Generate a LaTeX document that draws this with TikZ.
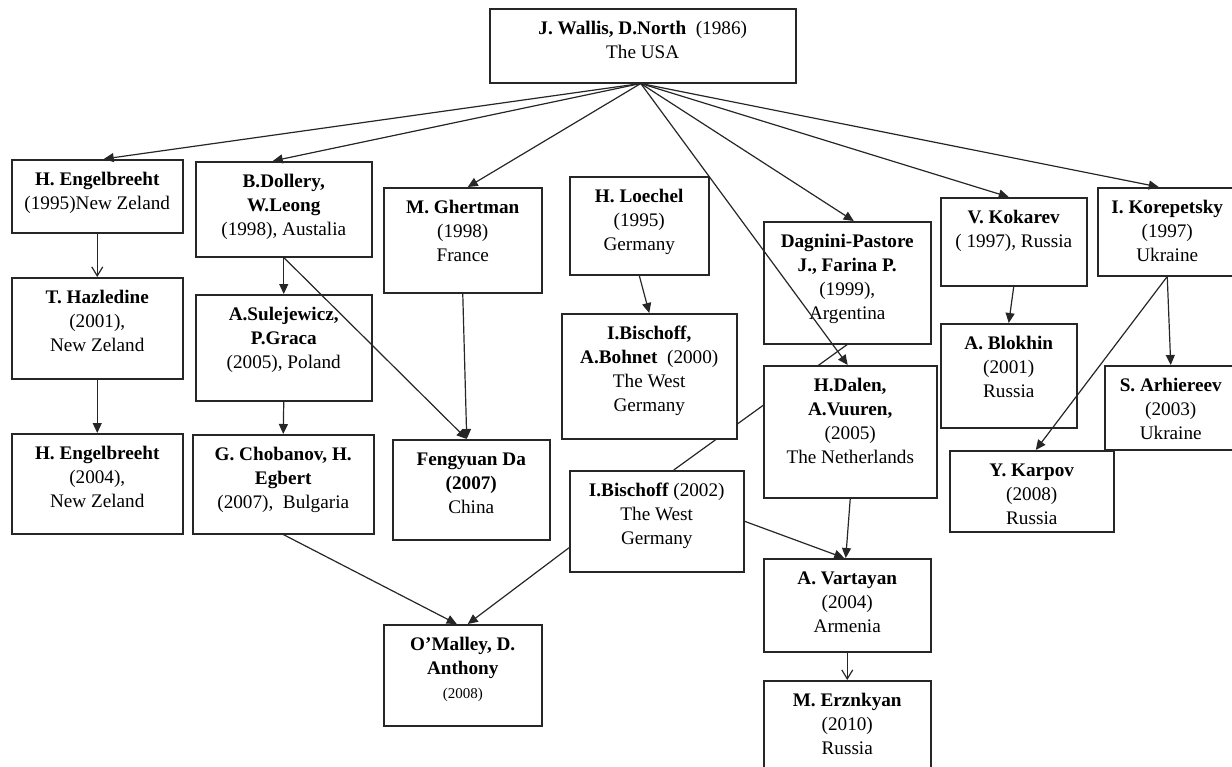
\documentclass[tikz,border=0pt]{standalone}
\usepackage{fontspec}
\setmainfont{Liberation Serif}
\usetikzlibrary{arrows.meta,calc}
\pgfdeclarelayer{bg}
\pgfsetlayers{bg,main}
\tikzset{
  box/.style={draw=black!85, line width=0.75pt, fill=white, inner sep=0pt, anchor=north west},
  txt/.style={align=center, inner sep=0pt, anchor=north, font=\fontsize{9.6}{12}\selectfont},
  conn/.style={draw=black!85, line width=0.6pt},
  arr/.style={conn, -{Triangle[length=5pt,width=4.5pt]}},
  oarr/.style={conn, -{Straight Barb[length=4.5pt,width=5.5pt]}},
}
\newcommand\bx[6]{%
  \pgfmathsetmacro\bxw{(#4-#2)*0.5}%
  \pgfmathsetmacro\bxh{(#5-#3)*0.5}%
  \node[box, minimum width=\bxw pt, minimum height=\bxh pt] (#1) at (#2,#3) {};
  \node[txt] (#1-t) at ($(#1.north)+(0,10)$) {\rule{0pt}{8pt}#6};
}
\begin{document}
\begin{tikzpicture}[x=0.5pt,y=-0.5pt]
\useasboundingbox (0,0) rectangle (1232,766);
\clip (0,0) rectangle (1232,766);
\bx{root}{489}{8}{795}{82}{\textbf{J. Wallis, D.North}\ \ (1986)\\The USA}
\bx{eng1}{11}{159}{182}{232}{\textbf{H. Engelbreeht}\\(1995)New Zeland}
\bx{dol}{195}{161}{371}{256}{\textbf{B.Dollery,}\\\textbf{W.Leong}\\(1998), Austalia}
\bx{ghe}{383}{187}{541}{292}{\textbf{M. Ghertman}\\(1998)\\France}
\bx{loe}{569}{176}{708}{274}{\textbf{H. Loechel}\\(1995)\\Germany}
\bx{dag}{763}{221}{930}{343}{\textbf{Dagnini-Pastore}\\\textbf{J., Farina P.}\\(1999),\\Argentina}
\bx{kok}{940}{197}{1086}{285}{\textbf{V. Kokarev}\\( 1997), Russia}
\bx{kor}{1097}{187}{1236}{275}{\textbf{I. Korepetsky}\\(1997)\\Ukraine}
\bx{haz}{11}{277}{182}{378}{\textbf{T. Hazledine}\\(2001),\\New Zeland}
\bx{sul}{195}{294}{371}{400}{\textbf{A.Sulejewicz,}\\\textbf{P.Graca}\\(2005), Poland}
\bx{bis1}{561}{313}{736}{438}{\textbf{I.Bischoff,}\\\textbf{A.Bohnet}\ \ (2000)\\The West\\Germany}
\bx{blo}{940}{323}{1076}{427}{\textbf{A. Blokhin}\\(2001)\\Russia}
\bx{arh}{1104}{365}{1236}{449}{\textbf{S. Arhiereev}\\(2003)\\Ukraine}
\bx{dal}{763}{365}{936}{497}{\textbf{H.Dalen,}\\\textbf{A.Vuuren,}\\(2005)\\The Netherlands}
\bx{eng2}{11}{433}{182}{533}{\textbf{H. Engelbreeht}\\(2004),\\New Zeland}
\bx{cho}{192}{434}{373}{533}{\textbf{G. Chobanov, H.}\\\textbf{Egbert}\\(2007),\ \ Bulgaria}
\bx{fen}{392}{439}{549}{539}{\textbf{Fengyuan Da}\\\textbf{(2007)}\\China}
\bx{bis2}{569}{470}{743}{571}{\textbf{I.Bischoff} (2002)\\The West\\Germany}
\bx{kar}{949}{450}{1113}{531}{\textbf{Y. Karpov}\\(2008)\\Russia}
\bx{var}{763}{558}{930}{651}{\textbf{A. Vartayan}\\(2004)\\Armenia}
\bx{oma}{383}{624}{541}{725}{\textbf{O’Malley, D.}\\\textbf{Anthony}\\{\fontsize{7.5}{12}\selectfont (2008)}}
\bx{erz}{763}{680}{930}{800}{\textbf{M. Erznkyan}\\(2010)\\Russia}
% background line (behind boxes)
\begin{pgfonlayer}{bg}
\draw[conn] (dag.south) -- ($(bis2.north)+(17,0)$);
\end{pgfonlayer}
% from root
\coordinate (rs) at ($(root.south)+(-2,0)$);
\draw[arr] (rs) -- ($(eng1.north)+(6.5,0)$);
\draw[arr] (rs) -- ($(dol.north)+(-11,0)$);
\draw[arr] (rs) -- ($(ghe.north)+(5,0)$);
\draw[arr] (rs) -- ($(dag.north)+(6.5,0)$);
\draw[arr] (rs) -- ($(kok.north)+(-5,0)$);
\draw[arr] (rs) -- ($(kor.north)+(-8.5,0)$);
\draw[arr] (rs) -- ($(dal.north)+(-2.5,0)$);
% others
\draw[oarr] (eng1.south) -- (haz.north);
\draw[arr] (haz.south) -- (eng2.north);
\draw[arr] (dol.south) -- (sul.north);
\draw[arr] (sul.south) -- (cho.north);
\draw[arr] (dol.south) -- ($(fen.north)+(-4.5,0)$);
\draw[arr] (ghe.south) -- ($(fen.north)+(-4.5,0)$);
\draw[arr] (loe.south) -- (bis1.north);
\draw[arr] ($(bis2.west)+(0,26.5)$) -- ($(oma.north)+(5,0)$);
\draw[arr] (cho.south) -- ($(oma.north)+(-6,0)$);
\draw[arr] (bis2.east) -- ($(var.north)+(-3,0)$);
\draw[arr] (dal.south) -- ($(var.north)+(-1.5,0)$);
\draw[oarr] (var.south) -- (erz.north);
\draw[arr] (kok.south) -- (blo.north);
\draw[arr] (kor.south) -- (arh.north);
\draw[arr] (kor.south) -- ($(kar.north)+(4,0)$);
\end{tikzpicture}
\end{document}
